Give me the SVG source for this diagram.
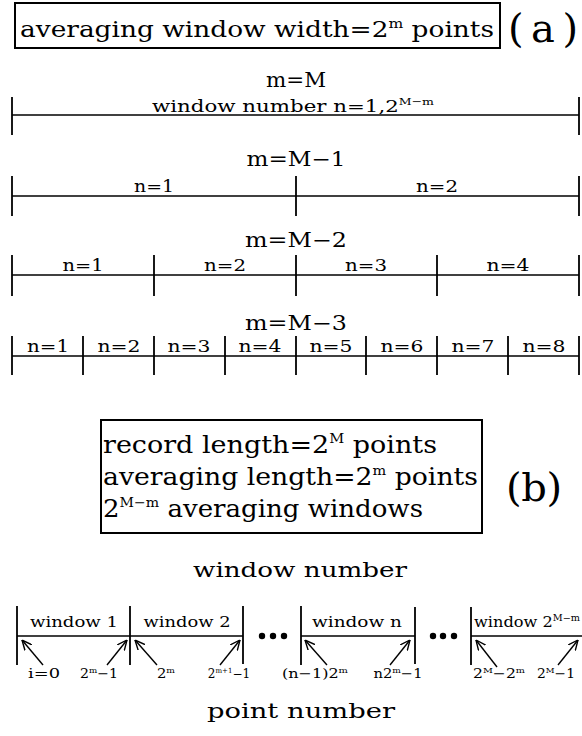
<svg xmlns="http://www.w3.org/2000/svg" width="582" height="736" viewBox="0 0 582 736">
<style>
.t{font-family:"DejaVu Serif","Liberation Serif",serif;fill:#000}
.ln{stroke:#000;stroke-width:1.6;fill:none}
.tk{stroke:#000;stroke-width:1.8;fill:none}
.bx{stroke:#000;stroke-width:2;fill:#fff}
.ar{stroke:#000;stroke-width:1.4;fill:none;marker-end:url(#ah)}
</style>
<defs>
<marker id="ah" viewBox="0 0 10 10" refX="10" refY="5" markerWidth="10" markerHeight="10" markerUnits="userSpaceOnUse" orient="auto">
<path d="M0,0.5 L10,5 L0,9.5" fill="none" stroke="#000" stroke-width="1.4"/>
</marker>
</defs>
<rect width="582" height="736" fill="#fff"/>

<g id="box-a">
<rect class="bx" x="15" y="3" width="485" height="45"/>
<text class="t" x="20" y="37" font-size="22" textLength="474" lengthAdjust="spacingAndGlyphs">averaging window width=2<tspan dy="-9" font-size="13">m</tspan><tspan dy="9"> points</tspan></text>
</g>
<g id="label-a"><text class="t" x="508" y="42" font-size="40" textLength="70" lengthAdjust="spacing">(a)</text></g>

<g id="row-m-M">
<text class="t" x="296" y="87" font-size="20" text-anchor="middle" textLength="60" lengthAdjust="spacingAndGlyphs">m=M</text>
<text class="t" x="293" y="112" font-size="17" text-anchor="middle" textLength="282" lengthAdjust="spacingAndGlyphs">window number n=1,2<tspan dy="-7" font-size="10">M−m</tspan></text>
<line class="ln" x1="12" y1="115" x2="579" y2="115"/>
<line class="tk" x1="12" y1="97" x2="12" y2="135"/>
<line class="tk" x1="579" y1="97" x2="579" y2="135"/>
</g>

<g id="row-m-M-1">
<text class="t" x="296" y="166" font-size="20" text-anchor="middle" textLength="99" lengthAdjust="spacingAndGlyphs">m=M−1</text>
<line class="ln" x1="12" y1="196" x2="579" y2="196"/>
<line class="tk" x1="12" y1="176" x2="12" y2="216"/>
<line class="tk" x1="296" y1="176" x2="296" y2="216"/>
<line class="tk" x1="579" y1="176" x2="579" y2="216"/>
<text class="t" x="154" y="192" font-size="17" text-anchor="middle" textLength="40" lengthAdjust="spacingAndGlyphs">n=1</text>
<text class="t" x="437" y="192" font-size="17" text-anchor="middle" textLength="42" lengthAdjust="spacingAndGlyphs">n=2</text>
</g>

<g id="row-m-M-2">
<text class="t" x="296" y="247" font-size="20" text-anchor="middle" textLength="102" lengthAdjust="spacingAndGlyphs">m=M−2</text>
<line class="ln" x1="12" y1="275" x2="579" y2="275"/>
<line class="tk" x1="12" y1="255" x2="12" y2="296"/>
<line class="tk" x1="154" y1="255" x2="154" y2="296"/>
<line class="tk" x1="296" y1="255" x2="296" y2="296"/>
<line class="tk" x1="437" y1="255" x2="437" y2="296"/>
<line class="tk" x1="579" y1="255" x2="579" y2="296"/>
<text class="t" x="83" y="271" font-size="17" text-anchor="middle" textLength="41" lengthAdjust="spacingAndGlyphs">n=1</text>
<text class="t" x="225" y="271" font-size="17" text-anchor="middle" textLength="42" lengthAdjust="spacingAndGlyphs">n=2</text>
<text class="t" x="366" y="271" font-size="17" text-anchor="middle" textLength="42" lengthAdjust="spacingAndGlyphs">n=3</text>
<text class="t" x="508" y="271" font-size="17" text-anchor="middle" textLength="43" lengthAdjust="spacingAndGlyphs">n=4</text>
</g>

<g id="row-m-M-3">
<text class="t" x="296" y="330" font-size="20" text-anchor="middle" textLength="102" lengthAdjust="spacingAndGlyphs">m=M−3</text>
<line class="ln" x1="12" y1="356" x2="579" y2="356"/>
<line class="tk" x1="12" y1="336" x2="12" y2="375"/>
<line class="tk" x1="83" y1="336" x2="83" y2="375"/>
<line class="tk" x1="154" y1="336" x2="154" y2="375"/>
<line class="tk" x1="225" y1="336" x2="225" y2="375"/>
<line class="tk" x1="296" y1="336" x2="296" y2="375"/>
<line class="tk" x1="366" y1="336" x2="366" y2="375"/>
<line class="tk" x1="437" y1="336" x2="437" y2="375"/>
<line class="tk" x1="508" y1="336" x2="508" y2="375"/>
<line class="tk" x1="579" y1="336" x2="579" y2="375"/>
<text class="t" x="48" y="352" font-size="16" text-anchor="middle" textLength="42" lengthAdjust="spacingAndGlyphs">n=1</text>
<text class="t" x="119" y="352" font-size="16" text-anchor="middle" textLength="43" lengthAdjust="spacingAndGlyphs">n=2</text>
<text class="t" x="189" y="352" font-size="16" text-anchor="middle" textLength="43" lengthAdjust="spacingAndGlyphs">n=3</text>
<text class="t" x="260" y="352" font-size="16" text-anchor="middle" textLength="43" lengthAdjust="spacingAndGlyphs">n=4</text>
<text class="t" x="331" y="352" font-size="16" text-anchor="middle" textLength="43" lengthAdjust="spacingAndGlyphs">n=5</text>
<text class="t" x="402" y="352" font-size="16" text-anchor="middle" textLength="43" lengthAdjust="spacingAndGlyphs">n=6</text>
<text class="t" x="473" y="352" font-size="16" text-anchor="middle" textLength="43" lengthAdjust="spacingAndGlyphs">n=7</text>
<text class="t" x="544" y="352" font-size="16" text-anchor="middle" textLength="43" lengthAdjust="spacingAndGlyphs">n=8</text>
</g>

<g id="box-b">
<rect class="bx" x="101" y="420" width="381" height="113"/>
<text class="t" x="103" y="453" font-size="24" textLength="334" lengthAdjust="spacingAndGlyphs">record length=2<tspan dy="-10" font-size="13">M</tspan><tspan dy="10"> points</tspan></text>
<text class="t" x="103" y="485" font-size="24" textLength="375" lengthAdjust="spacingAndGlyphs">averaging length=2<tspan dy="-10" font-size="13">m</tspan><tspan dy="10"> points</tspan></text>
<text class="t" x="103" y="517" font-size="24" textLength="320" lengthAdjust="spacingAndGlyphs">2<tspan dy="-10" font-size="13">M−m</tspan><tspan dy="10"> averaging windows</tspan></text>
</g>
<g id="label-b"><text class="t" x="506" y="501" font-size="40" textLength="56" lengthAdjust="spacing">(b)</text></g>

<g id="title-window-number"><text class="t" x="300" y="577" font-size="21" text-anchor="middle" textLength="214" lengthAdjust="spacingAndGlyphs">window number</text></g>

<g id="window-1">
<line class="ln" x1="17" y1="636" x2="130" y2="636"/>
<line class="tk" x1="17" y1="606" x2="17" y2="665"/>
<line class="tk" x1="130" y1="606" x2="130" y2="665" stroke-width="2.4"/>
<text class="t" x="74" y="627" font-size="15" text-anchor="middle" textLength="88" lengthAdjust="spacingAndGlyphs">window 1</text>
</g>
<g id="window-2">
<line class="ln" x1="130" y1="636" x2="243" y2="636"/>
<line class="tk" x1="243" y1="606" x2="243" y2="664"/>
<text class="t" x="187" y="627" font-size="15" text-anchor="middle" textLength="87" lengthAdjust="spacingAndGlyphs">window 2</text>
</g>
<g id="dots-1">
<circle cx="262" cy="636" r="3.2"/><circle cx="273" cy="636" r="3.2"/><circle cx="284" cy="636" r="3.2"/>
</g>
<g id="window-n">
<line class="ln" x1="301" y1="636" x2="415" y2="636"/>
<line class="tk" x1="301" y1="606" x2="301" y2="665"/>
<line class="tk" x1="415" y1="607" x2="415" y2="664"/>
<text class="t" x="357" y="627" font-size="15" text-anchor="middle" textLength="90" lengthAdjust="spacingAndGlyphs">window n</text>
</g>
<g id="dots-2">
<circle cx="433" cy="636" r="3.2"/><circle cx="443" cy="636" r="3.2"/><circle cx="454" cy="636" r="3.2"/>
</g>
<g id="window-last">
<line class="ln" x1="471" y1="636" x2="582" y2="636"/>
<line class="tk" x1="471" y1="607" x2="471" y2="665"/>
<text class="t" x="474" y="627" font-size="15" textLength="106" lengthAdjust="spacingAndGlyphs">window 2<tspan dy="-6" font-size="9">M−m</tspan></text>
</g>

<g id="connectors">
<line class="ar" x1="43" y1="665" x2="22" y2="640"/>
<line class="ar" x1="107" y1="665" x2="127" y2="640"/>
<line class="ar" x1="157" y1="665" x2="135" y2="640"/>
<line class="ar" x1="220" y1="665" x2="240" y2="640"/>
<line class="ar" x1="327" y1="665" x2="305" y2="640"/>
<line class="ar" x1="390" y1="665" x2="410" y2="640"/>
<line class="ar" x1="497" y1="667" x2="476" y2="640"/>
<line class="ar" x1="558" y1="665" x2="578" y2="640"/>
</g>

<g id="point-labels">
<text class="t" x="44" y="678" font-size="13" text-anchor="middle" textLength="32" lengthAdjust="spacingAndGlyphs">i=0</text>
<text class="t" x="99" y="678" font-size="13" text-anchor="middle" textLength="38" lengthAdjust="spacingAndGlyphs">2<tspan dy="-5" font-size="8">m</tspan><tspan dy="5">−1</tspan></text>
<text class="t" x="166" y="678" font-size="13" text-anchor="middle" textLength="18" lengthAdjust="spacingAndGlyphs">2<tspan dy="-5" font-size="8">m</tspan></text>
<text class="t" x="229" y="678" font-size="12" text-anchor="middle">2<tspan dy="-5" font-size="7">m+1</tspan><tspan dy="5">−1</tspan></text>
<text class="t" x="315" y="678" font-size="13" text-anchor="middle" textLength="66" lengthAdjust="spacingAndGlyphs">(n−1)2<tspan dy="-5" font-size="8">m</tspan></text>
<text class="t" x="398" y="678" font-size="13" text-anchor="middle" textLength="49" lengthAdjust="spacingAndGlyphs">n2<tspan dy="-5" font-size="8">m</tspan><tspan dy="5">−1</tspan></text>
<text class="t" x="499" y="678" font-size="13" text-anchor="middle" textLength="52" lengthAdjust="spacingAndGlyphs">2<tspan dy="-5" font-size="8">M</tspan><tspan dy="5">−2</tspan><tspan dy="-5" font-size="8">m</tspan></text>
<text class="t" x="556" y="678" font-size="13" text-anchor="middle" textLength="38" lengthAdjust="spacingAndGlyphs">2<tspan dy="-5" font-size="8">M</tspan><tspan dy="5">−1</tspan></text>
</g>

<g id="title-point-number"><text class="t" x="301" y="718" font-size="21" text-anchor="middle" textLength="188" lengthAdjust="spacingAndGlyphs">point number</text></g>
</svg>
